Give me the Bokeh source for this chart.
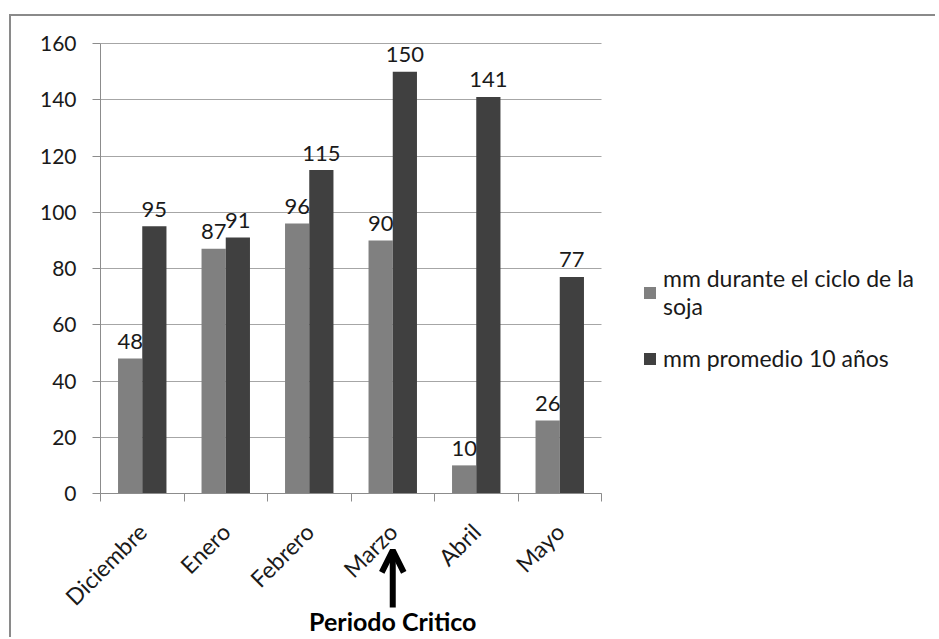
import math
from bokeh.plotting import figure
from bokeh.models import (Range1d, FixedTicker, Legend, LegendItem, Arrow,
                          OpenHead, Label, ColumnDataSource)
from bokeh.core.properties import value
from bokeh.embed import file_html
from bokeh.resources import INLINE

# ---- data ----
months = ["Diciembre", "Enero", "Febrero", "Marzo", "Abril", "Mayo"]
ciclo = [48, 87, 96, 90, 10, 26]
promedio = [95, 91, 115, 150, 141, 77]
y_ticks = [0, 20, 40, 60, 80, 100, 120, 140, 160]
series_names = ["mm durante el ciclo de la\nsoja", "mm promedio 10 años"]
series_colors = ["#808080", "#404040"]
critical_month = "Marzo"
critical_text = "Periodo Critico"

FONT = "Lato"
TXT = "#1a1a1a"
FS = "21px"
BAR_W = 0.29
N = len(months)
PX_PER_UNIT = 450.0 / 160          # vertical scale of the frame
Y_MIN = -146.0 / PX_PER_UNIT       # room below the axis for labels / annotation
Y_MAX = 160 + 27.0 / PX_PER_UNIT   # room above for the top tick label
X_MIN = -N * 89 / 501              # frame extends left for the y tick labels
X_MAX = N * 837 / 501              # and right to host the legend

idx = list(range(N))
src = ColumnDataSource(dict(
    x1=[i + 0.5 - BAR_W / 2 for i in idx],
    x2=[i + 0.5 + BAR_W / 2 for i in idx],
    ciclo=ciclo,
    promedio=promedio,
    l1=[str(v) for v in ciclo],
    l2=[str(v) for v in promedio],
))

p = figure(width=926, height=623, output_backend="svg", toolbar_location=None,
           x_range=Range1d(X_MIN, X_MAX), y_range=Range1d(Y_MIN, Y_MAX),
           min_border_left=0, min_border_top=0, min_border_right=0,
           min_border_bottom=0)
p.styles = {"margin-left": "9px", "margin-top": "14px",
            "border-top": "2px solid #8a8a8a", "border-left": "2px solid #8a8a8a"}
p.outline_line_color = None
p.background_fill_color = "white"
p.border_fill_color = "white"

r1 = p.vbar(x="x1", top="ciclo", width=BAR_W, source=src,
            fill_color=series_colors[0], line_color=None)
r2 = p.vbar(x="x2", top="promedio", width=BAR_W, source=src,
            fill_color=series_colors[1], line_color=None)

p.text(x="x1", y="ciclo", text="l1", source=src,
       text_align="center", text_baseline="alphabetic", y_offset=-17,
       text_font=value(FONT), text_font_size="22px", text_color=TXT)
p.text(x="x2", y="promedio", text="l2", source=src,
       text_align="center", text_baseline="alphabetic", y_offset=-17,
       text_font=value(FONT), text_font_size="22px", text_color=TXT)

# y axis at x = 0
p.yaxis.fixed_location = 0
p.yaxis.ticker = FixedTicker(ticks=y_ticks, minor_ticks=[])
p.yaxis.bounds = (0, 160)
p.yaxis.axis_line_color = "#8c8c8c"
p.yaxis.major_tick_line_color = "#8c8c8c"
p.yaxis.major_tick_out = 8
p.yaxis.major_tick_in = 0
p.yaxis.minor_tick_line_color = None
p.yaxis.major_label_standoff = 16
p.yaxis.major_label_text_font = FONT
p.yaxis.major_label_text_font_size = FS
p.yaxis.major_label_text_color = TXT
p.ygrid.ticker = FixedTicker(ticks=y_ticks)
p.ygrid.cross_bounds = (0, N)
p.ygrid.grid_line_color = "#a6a6a6"
p.xgrid.grid_line_color = None

# x axis at value 0: labels at centers, tick marks at boundaries (minor ticks)
centers = [i + 0.5 for i in idx]
p.xaxis.fixed_location = 0
p.xaxis.bounds = (0, N)
p.xaxis.ticker = FixedTicker(ticks=centers,
                             minor_ticks=[float(i) for i in range(N + 1)])
p.xaxis.major_label_overrides = {c: m for c, m in zip(centers, months)}
p.xaxis.major_tick_line_color = None
p.xaxis.minor_tick_line_color = "#8c8c8c"
p.xaxis.minor_tick_out = 8
p.xaxis.minor_tick_in = 0
p.xaxis.axis_line_color = "#8c8c8c"
p.xaxis.major_label_orientation = math.pi / 4
p.xaxis.major_label_standoff = 26
p.xaxis.major_label_text_font = FONT
p.xaxis.major_label_text_font_size = "23px"
p.xaxis.major_label_text_color = TXT

# legend (inside the widened frame, to the right of the bars)
legend = Legend(items=[LegendItem(label=series_names[0], renderers=[r1]),
                       LegendItem(label=series_names[1], renderers=[r2])],
                location=(631, 267), orientation="vertical",
                glyph_width=15, glyph_height=15, label_standoff=6,
                label_text_font=FONT, label_text_font_size="23px",
                label_text_color=TXT, spacing=24, padding=0, margin=0,
                border_line_color=None, background_fill_alpha=0)
p.add_layout(legend, "center")

# critical period annotation
cx = months.index(critical_month) + 0.5
p.add_layout(Arrow(end=OpenHead(size=22, line_width=6, line_color="black"),
                   x_start=cx, y_start=-40.5, x_end=cx, y_end=-20.2,
                   line_width=6, line_color="black"))
p.add_layout(Label(x=cx, y=-45.5, text=critical_text, text_align="center",
                   text_baseline="alphabetic", text_font=FONT,
                   text_font_size="25px", text_font_style="bold",
                   text_color="black"))

open("out.html", "w").write(file_html(p, INLINE))
